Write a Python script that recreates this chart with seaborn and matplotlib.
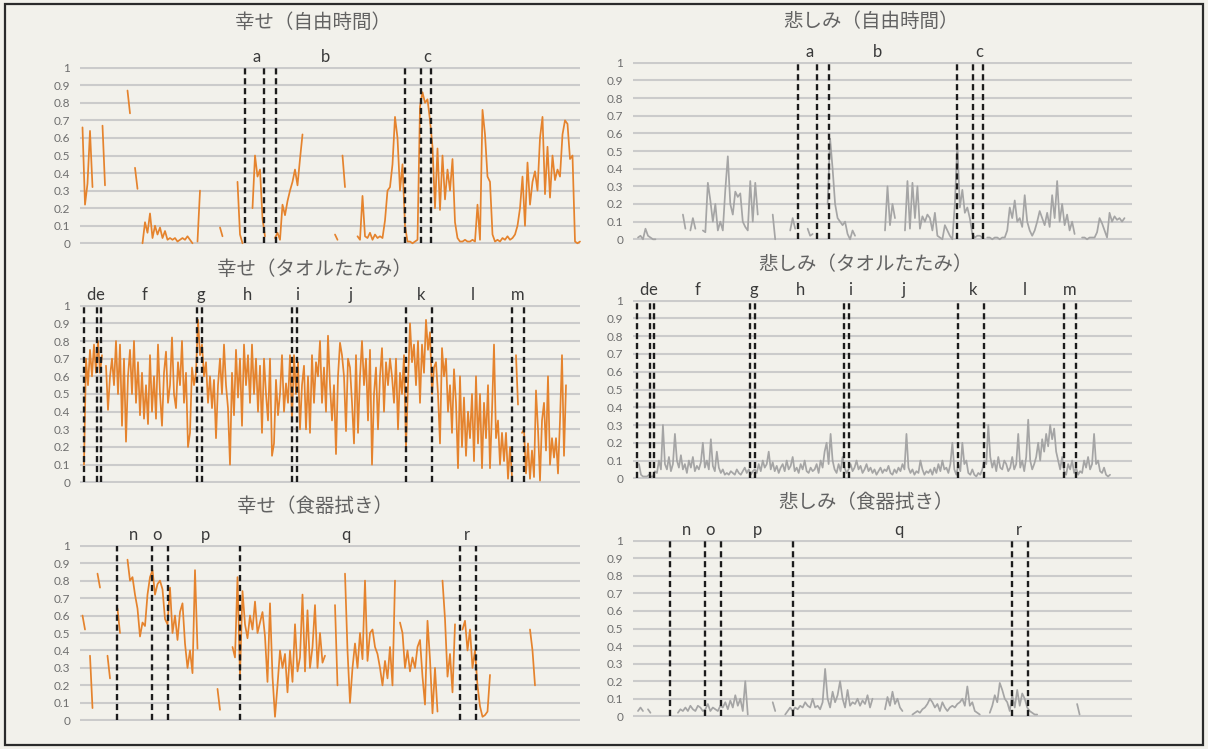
import numpy as np
import pandas as pd
import matplotlib
matplotlib.use("Agg")
import matplotlib.pyplot as plt
from matplotlib.patches import Rectangle
import seaborn as sns

nan = np.nan

# ---- data (one sample per time step) ----
free_happy = [
    nan, 0.66, 0.22, 0.34, 0.64, 0.32, nan, nan, nan, 0.67,
    0.33, nan, nan, nan, nan, nan, nan, nan, nan, 0.87,
    0.74, nan, 0.43, 0.31, nan, 0.00, 0.12, 0.06, 0.17, 0.03,
    0.10, 0.05, 0.09, 0.03, 0.07, 0.02, 0.03, 0.02, 0.03, 0.01,
    0.02, 0.03, 0.02, 0.04, 0.02, 0.00, nan, 0.01, 0.30, nan,
    nan, nan, nan, nan, nan, nan, 0.09, 0.04, nan, nan,
    nan, nan, nan, 0.35, 0.05, 0.00, nan, nan, nan, 0.20,
    0.50, 0.38, 0.42, 0.14, 0.04, nan, nan, nan, 0.03, 0.06,
    0.02, 0.22, 0.16, 0.24, 0.30, 0.35, 0.42, 0.33, 0.48, 0.62,
    nan, nan, nan, nan, nan, nan, nan, nan, nan, nan,
    nan, nan, 0.05, 0.02, nan, 0.50, 0.32, nan, nan, nan,
    nan, 0.04, 0.02, 0.27, 0.04, 0.03, 0.06, 0.02, 0.05, 0.03,
    0.04, 0.03, 0.13, 0.30, 0.32, 0.45, 0.72, 0.60, 0.30, 0.45,
    0.10, 0.01, 0.01, 0.00, 0.01, 0.02, 0.78, 0.86, 0.80, 0.82,
    0.70, 0.55, 0.20, 0.54, 0.19, 0.50, 0.25, 0.42, 0.30, 0.48,
    0.12, 0.03, 0.01, 0.01, 0.02, 0.01, 0.01, 0.02, 0.01, 0.22,
    0.02, 0.76, 0.62, 0.38, 0.35, 0.05, 0.01, 0.02, 0.01, 0.03,
    0.02, 0.04, 0.02, 0.03, 0.05, 0.10, 0.20, 0.38, 0.10, 0.46,
    0.22, 0.35, 0.41, 0.30, 0.60, 0.72, 0.28, 0.55, 0.26, 0.50,
    0.36, 0.42, 0.38, 0.62, 0.70, 0.68, 0.48, 0.50, 0.01, 0.00,
    0.01,
]

free_sad = [
    nan, nan, 0.01, 0.02, 0.00, 0.06, 0.02, 0.01, 0.00, 0.00,
    nan, nan, nan, nan, nan, nan, nan, nan, nan, nan,
    0.14, 0.06, nan, 0.05, 0.12, 0.06, nan, nan, 0.05, 0.04,
    0.32, 0.22, 0.10, 0.20, 0.05, 0.10, 0.05, 0.28, 0.47, 0.20,
    0.14, 0.27, 0.24, 0.26, 0.10, 0.07, 0.05, 0.33, 0.10, 0.32,
    0.14, nan, nan, nan, nan, nan, 0.14, 0.00, nan, nan,
    nan, nan, nan, 0.05, 0.12, 0.06, nan, nan, nan, nan,
    0.06, 0.02, 0.03, nan, nan, nan, nan, nan, 0.20, 0.57,
    0.40, 0.20, 0.12, 0.10, 0.08, 0.10, 0.03, 0.00, 0.05, 0.02,
    nan, nan, nan, nan, nan, nan, nan, nan, nan, nan,
    nan, 0.05, 0.30, 0.08, 0.20, 0.12, nan, nan, nan, 0.05,
    0.33, 0.06, 0.32, 0.12, 0.30, 0.06, 0.13, 0.10, 0.14, 0.12,
    0.05, 0.15, 0.02, 0.01, 0.00, 0.08, 0.05, 0.02, 0.00, 0.20,
    0.54, 0.18, 0.28, 0.15, 0.18, 0.12, 0.03, 0.01, 0.02, 0.02,
    0.01, nan, 0.01, 0.01, 0.00, 0.01, 0.01, 0.00, 0.01, 0.01,
    0.05, 0.18, 0.12, 0.22, 0.10, 0.12, 0.07, 0.25, 0.10, 0.05,
    0.02, 0.05, 0.10, 0.16, 0.12, 0.08, 0.15, 0.07, 0.25, 0.12,
    0.33, 0.10, 0.20, 0.08, 0.14, 0.05, 0.10, 0.03, nan, nan,
    0.01, 0.01, 0.00, 0.01, 0.01, 0.01, 0.04, 0.12, 0.09, 0.05,
    0.01, 0.15, 0.10, 0.13, 0.11, 0.12, 0.10, 0.12, nan, nan,
    nan,
]

towel_happy = [
    nan, nan, 0.10, 0.70, 0.55, 0.75, 0.60, 0.78, 0.62, 0.80,
    0.62, 0.72, nan, 0.66, 0.41, 0.60, 0.70, 0.55, 0.80, 0.50,
    0.78, 0.32, 0.70, 0.23, 0.60, 0.75, 0.50, 0.80, 0.45, 0.68,
    0.38, 0.62, 0.36, 0.55, 0.33, 0.72, 0.40, 0.60, 0.36, 0.78,
    0.50, 0.32, 0.62, 0.74, 0.45, 0.55, 0.82, 0.50, 0.42, 0.68,
    0.55, 0.80, 0.45, 0.62, 0.20, 0.28, 0.65, 0.55, 0.62, 0.92,
    0.72, 0.78, 0.60, 0.68, 0.45, 0.60, 0.42, 0.58, 0.25, 0.55,
    0.70, 0.50, 0.78, 0.55, 0.42, 0.10, 0.62, 0.38, 0.75, 0.48,
    0.70, 0.32, 0.78, 0.55, 0.72, 0.45, 0.78, 0.50, 0.70, 0.40,
    0.66, 0.28, 0.70, 0.50, 0.35, 0.70, 0.15, 0.22, 0.58, 0.38,
    0.50, 0.72, 0.40, 0.56, 0.45, 0.72, 0.35, 0.72, 0.50, 0.68,
    0.30, 0.55, 0.66, 0.30, 0.60, 0.28, 0.72, 0.45, 0.68, 0.60,
    0.80, 0.45, 0.65, 0.40, 0.83, 0.55, 0.35, 0.55, 0.16, 0.60,
    0.79, 0.72, 0.60, 0.29, 0.70, 0.65, 0.45, 0.22, 0.72, 0.28,
    0.60, 0.80, 0.55, 0.70, 0.35, 0.75, 0.10, 0.50, 0.65, 0.30,
    0.60, 0.76, 0.40, 0.68, 0.55, 0.70, 0.60, 0.45, 0.70, 0.30,
    0.62, 0.50, 0.72, 0.20, 0.55, 0.90, 0.68, 0.78, 0.55, 0.80,
    0.45, 0.78, 0.62, 0.92, 0.75, 0.85, 0.50, 0.65, 0.68, 0.50,
    0.22, 0.76, 0.60, 0.70, 0.40, 0.55, 0.28, 0.64, 0.45, 0.08,
    0.60, 0.20, 0.48, 0.15, 0.40, 0.25, 0.50, 0.12, 0.60, 0.22,
    0.50, 0.08, 0.45, 0.25, 0.55, 0.08, 0.40, 0.78, 0.25, 0.35,
    0.10, 0.28, 0.12, 0.28, 0.02, 0.20, 0.03, nan, 0.72, 0.44,
    nan, 0.28, 0.30, 0.05, 0.22, 0.02, 0.18, 0.03, 0.52, 0.30,
    0.01, 0.35, 0.45, 0.18, 0.60, 0.10, 0.25, 0.14, 0.25, 0.05,
    0.35, 0.72, 0.15, 0.55, nan, nan, nan, nan, nan, nan,
]

towel_sad = [
    nan, nan, nan, 0.08, 0.02, 0.01, 0.01, 0.01, 0.02, 0.01,
    0.01, 0.04, 0.03, 0.10, 0.05, 0.30, 0.08, 0.05, 0.12, 0.04,
    0.08, 0.25, 0.10, 0.06, 0.13, 0.05, 0.08, 0.03, 0.10, 0.06,
    0.12, 0.04, 0.07, 0.05, 0.09, 0.20, 0.06, 0.10, 0.05, 0.22,
    0.07, 0.04, 0.15, 0.06, 0.03, 0.05, 0.02, 0.03, 0.02, 0.04,
    0.03, 0.02, 0.05, 0.03, 0.02, 0.04, 0.06, 0.03, 0.05, 0.02,
    0.04, 0.05, 0.03, 0.08, 0.04, 0.10, 0.06, 0.08, 0.15, 0.05,
    0.09, 0.04, 0.07, 0.03, 0.06, 0.08, 0.04, 0.10, 0.05, 0.07,
    0.12, 0.04, 0.06, 0.03, 0.08, 0.05, 0.10, 0.04, 0.03, 0.06,
    0.04, 0.05, 0.08, 0.03, 0.10, 0.06, 0.15, 0.20, 0.08, 0.25,
    0.10, 0.05, 0.03, 0.08, 0.04, 0.12, 0.06, 0.03, 0.05, 0.08,
    0.04, 0.06, 0.10, 0.05, 0.07, 0.03, 0.05, 0.08, 0.04, 0.06,
    0.03, 0.05, 0.02, 0.04, 0.06, 0.03, 0.05, 0.04, 0.07, 0.03,
    0.02, 0.05, 0.03, 0.06, 0.04, 0.08, 0.05, 0.25, 0.06, 0.03,
    0.05, 0.02, 0.04, 0.03, 0.10, 0.05, 0.02, 0.04, 0.03, 0.05,
    0.02, 0.06, 0.03, 0.08, 0.04, 0.10, 0.05, 0.06, 0.03, 0.08,
    0.20, 0.05, 0.02, 0.08, 0.04, 0.20, 0.08, 0.10, 0.03, 0.02,
    0.05, 0.02, 0.01, 0.03, 0.02, 0.05, 0.10, 0.08, 0.30, 0.12,
    0.06, 0.10, 0.04, 0.12, 0.06, 0.05, 0.10, 0.08, 0.04, 0.06,
    0.12, 0.05, 0.08, 0.25, 0.06, 0.10, 0.04, 0.12, 0.33, 0.10,
    0.05, 0.08, 0.12, 0.20, 0.10, 0.22, 0.15, 0.25, 0.18, 0.30,
    0.22, 0.28, 0.15, 0.10, 0.05, 0.12, 0.04, 0.02, 0.08, 0.05,
    0.10, 0.03, 0.06, 0.02, 0.04, 0.03, 0.10, 0.06, 0.12, 0.05,
    0.08, 0.25, 0.08, 0.10, 0.04, 0.03, 0.06, 0.02, 0.01, 0.02,
    nan, nan, nan, nan, nan, nan, nan, nan, nan, nan,
]

dish_happy = [
    nan, 0.60, 0.52, nan, 0.37, 0.07, nan, 0.84, 0.76, nan,
    nan, 0.37, 0.24, nan, nan, 0.64, 0.50, nan, nan, 0.92,
    0.80, 0.82, 0.72, 0.64, 0.48, 0.56, 0.54, 0.72, 0.82, 0.86,
    0.72, 0.78, 0.80, 0.75, 0.58, 0.55, 0.76, 0.50, 0.60, 0.46,
    0.62, 0.67, 0.44, 0.30, 0.40, 0.27, 0.86, 0.41, nan, nan,
    nan, nan, nan, nan, nan, 0.18, 0.06, nan, nan, nan,
    nan, 0.42, 0.36, 0.82, 0.26, 0.74, 0.55, 0.47, 0.60, 0.52,
    0.68, 0.50, 0.56, 0.62, 0.48, 0.22, 0.67, 0.25, 0.02, 0.20,
    0.40, 0.30, 0.38, 0.16, 0.40, 0.22, 0.55, 0.28, 0.36, 0.72,
    0.28, 0.63, 0.30, 0.42, 0.66, 0.30, 0.50, 0.33, 0.37, nan,
    nan, nan, 0.66, 0.20, nan, nan, 0.84, 0.40, 0.10, 0.30,
    0.44, 0.30, 0.50, 0.35, 0.80, 0.34, 0.50, 0.52, 0.42, 0.38,
    0.30, 0.20, 0.34, 0.24, 0.42, 0.20, 0.80, nan, 0.56, 0.50,
    0.30, 0.40, 0.28, 0.36, 0.30, 0.42, 0.46, 0.25, 0.09, 0.57,
    0.35, 0.04, 0.30, 0.05, nan, 0.80, 0.58, 0.25, 0.38, 0.16,
    0.55, nan, nan, 0.52, 0.57, 0.40, 0.52, 0.30, 0.40, 0.20,
    0.08, 0.02, 0.03, 0.05, 0.26, nan, nan, nan, nan, nan,
    nan, nan, nan, nan, nan, nan, nan, nan, nan, nan,
    0.52, 0.40, 0.20, nan, nan, nan, nan, nan, nan, nan,
    nan, nan, nan, nan, nan, nan, nan, nan, nan, nan,
    nan,
]

dish_sad = [
    nan, nan, 0.03, 0.05, 0.03, nan, 0.04, 0.02, nan, nan,
    nan, nan, nan, nan, nan, nan, nan, nan, 0.02, 0.04,
    0.03, 0.05, 0.03, 0.06, 0.04, 0.03, 0.06, 0.05, 0.03, 0.04,
    0.07, 0.03, 0.05, 0.04, 0.03, 0.06, 0.05, 0.08, 0.04, 0.09,
    0.05, 0.12, 0.06, 0.10, 0.03, 0.20, 0.01, nan, nan, nan,
    nan, nan, nan, nan, nan, nan, 0.08, 0.03, nan, nan,
    nan, 0.01, 0.03, 0.05, 0.03, 0.05, 0.04, 0.06, 0.05, 0.08,
    0.06, 0.05, 0.10, 0.05, 0.06, 0.04, 0.08, 0.27, 0.10, 0.05,
    0.14, 0.08, 0.12, 0.20, 0.10, 0.05, 0.15, 0.06, 0.08, 0.07,
    0.10, 0.06, 0.09, 0.07, 0.12, 0.05, 0.10, nan, nan, nan,
    nan, 0.04, 0.11, 0.06, 0.14, 0.07, 0.10, 0.05, 0.03, nan,
    nan, nan, 0.01, 0.02, 0.03, 0.02, 0.04, 0.05, 0.07, 0.10,
    0.08, 0.05, 0.07, 0.03, 0.08, 0.05, 0.03, 0.05, 0.06, 0.05,
    0.07, 0.08, 0.10, 0.06, 0.17, 0.06, 0.08, 0.03, 0.02, 0.01,
    nan, nan, nan, 0.02, 0.06, 0.12, 0.08, 0.19, 0.15, 0.10,
    0.08, 0.03, 0.12, 0.05, 0.15, 0.06, 0.13, 0.10, 0.05, 0.03,
    0.02, 0.01, 0.01, nan, nan, nan, nan, nan, nan, nan,
    nan, nan, nan, nan, nan, nan, nan, nan, 0.07, 0.01,
    nan, nan, nan, nan, nan, nan, nan, nan, nan, nan,
    nan, nan, nan, nan, nan, nan, nan, nan, nan, nan,
    nan,
]

# scene boundaries (time step) and their letters
free_cuts = [66, 73.6, 78.4, 130, 136.4, 140.4]
free_letters = ["a", "b", "c"]
free_letter_t = [70.8, 98, 138.8]

towel_cuts = [2.2, 8.4, 10.5, 58.4, 61.2, 105.9, 108.4, 163, 176, 216, 222]
towel_letters = ["d", "e", "f", "g", "h", "i", "j", "k", "l", "m"]
towel_letter_t = [5.4, 10.0, 32.5, 60.5, 84, 108.5, 135.5, 170.5, 196.5, 219]

dish_cuts = [14.8, 28.8, 35.2, 64, 152, 158.4]
dish_letters = ["n", "o", "p", "q", "r"]
dish_letter_t = [21.6, 30.8, 50, 106.4, 154.8]

y_ticks = [0, 0.1, 0.2, 0.3, 0.4, 0.5, 0.6, 0.7, 0.8, 0.9, 1]
y_tick_labels = ["0", "0.1", "0.2", "0.3", "0.4", "0.5", "0.6", "0.7", "0.8", "0.9", "1"]

assert len(free_happy) == 201 and len(free_sad) == 201
assert len(towel_happy) == 250 and len(towel_sad) == 250
assert len(dish_happy) == 201 and len(dish_sad) == 201

# ---- style ----
sns.set_style("white")
plt.rcParams["font.family"] = ["Lato", "Noto Sans CJK JP", "DejaVu Sans"]

PAPER = "#f2f1eb"
GRID = "#cbcbcb"
ORANGE = "#e5832d"
GREY = "#a5a5a5"

W, H = 1208, 749
fig = plt.figure(figsize=(W / 100, H / 100), dpi=100)
fig.patch.set_facecolor(PAPER)
fig.add_artist(Rectangle((5 / W, 4 / H), 1198 / W, 741 / H, transform=fig.transFigure,
                         fill=False, edgecolor="#2b2b2b", lw=1.6))


def panel(box, values, color, cuts, letters, letter_t, xmax, title, title_px):
    x0, x1, ytop, ybot = box
    ax = fig.add_axes([x0 / W, 1 - ybot / H, (x1 - x0) / W, (ybot - ytop) / H])
    ax.set_facecolor("none")

    v = np.asarray(values, dtype=float)
    df = pd.DataFrame({"t": np.arange(len(v)), "v": v})
    df["seg"] = df["v"].isna().cumsum()
    df = df.dropna()
    sns.lineplot(data=df, x="t", y="v", units="seg", estimator=None, sort=False,
                 color=color, lw=1.25, ax=ax, legend=False, zorder=3)
    for ln in ax.lines:
        ln.set_clip_on(False)

    ax.vlines(cuts, 0, 1, colors="#1c1c1c", linewidths=1.7,
              linestyles=[(0, (2.6, 1.6))], zorder=4)
    for lab, t in zip(letters, letter_t):
        ax.text(t, 1.06, lab, ha="center", va="center", fontsize=12, color="#3a3a3a")

    ax.set_xlim(0, xmax)
    ax.set_ylim(-0.004, 1.004)
    ax.set_yticks(y_ticks)
    ax.set_yticklabels(y_tick_labels)
    ax.set_xticks([])
    ax.grid(axis="y", color=GRID, lw=1.5)
    ax.set_axisbelow(True)
    ax.tick_params(axis="y", length=0, pad=7, labelsize=8.5, labelcolor="#6e6e6e")
    ax.set_xlabel("")
    ax.set_ylabel("")
    sns.despine(ax=ax, left=True, bottom=True)

    fig.text(title_px[0] / W, 1 - title_px[1] / H, title, ha="center", va="center",
             fontsize=14, color="#626262")


LEFT = (80, 580)
RIGHT = (633, 1132)

panel((*LEFT, 67, 244), free_happy, ORANGE, free_cuts, free_letters, free_letter_t, 200,
      "幸せ（自由時間）", (313, 22))
panel((*RIGHT, 62, 240), free_sad, GREY, free_cuts, free_letters, free_letter_t, 200,
      "悲しみ（自由時間）", (871, 21))
panel((*LEFT, 305, 483), towel_happy, ORANGE, towel_cuts, towel_letters, towel_letter_t, 250,
      "幸せ（タオルたたみ）", (314, 269))
panel((*RIGHT, 300, 479), towel_sad, GREY, towel_cuts, towel_letters, towel_letter_t, 250,
      "悲しみ（タオルたたみ）", (866, 264))
panel((*LEFT, 545, 721), dish_happy, ORANGE, dish_cuts, dish_letters, dish_letter_t, 200,
      "幸せ（食器拭き）", (315, 506))
panel((*RIGHT, 540, 717), dish_sad, GREY, dish_cuts, dish_letters, dish_letter_t, 200,
      "悲しみ（食器拭き）", (866, 502))

fig.savefig("out.png", dpi=100, facecolor=PAPER)
